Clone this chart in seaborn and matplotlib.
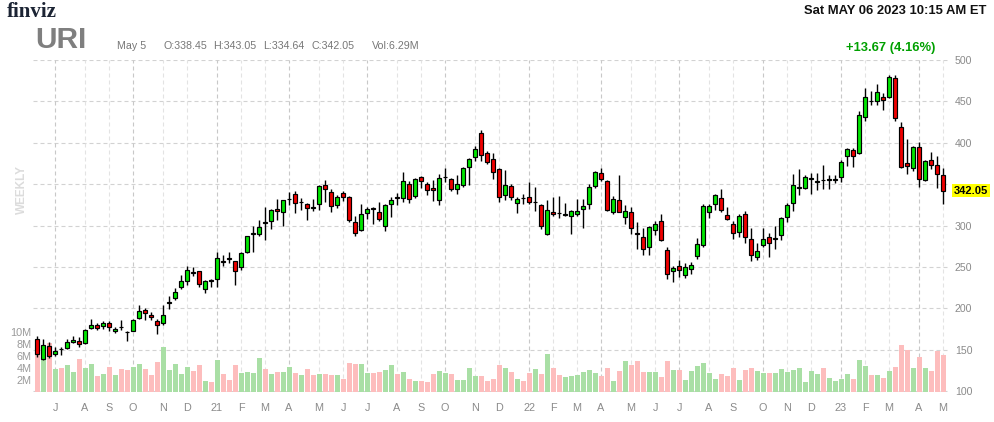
import numpy as np
import pandas as pd
import matplotlib
matplotlib.use("Agg")
import matplotlib.pyplot as plt
import matplotlib.transforms as mtransforms
import seaborn as sns

# ---------------- data (weekly candles, URI, Jun 2020 - May 2023) ----------------
opens = [162.9, 138.8, 154.4, 144.8, 151.2, 152.0, 159.2, 160.4, 158.0, 176.1,
         179.7, 178.5, 182.1, 172.5, 177.7, 171.7, 172.9, 187.8, 198.2, 191.8,
         184.9, 182.1, 206.6, 212.2, 225.5, 232.7, 243.6, 244.8, 223.1, 234.3,
         235.5, 256.8, 260.8, 256.8, 249.6, 268.5, 290.2, 289.4, 303.8, 305.0,
         319.9, 315.9, 331.5, 338.0, 327.9, 325.9, 321.9, 325.5, 348.8, 340.4,
         324.3, 339.2, 334.3, 304.2, 294.6, 315.1, 321.1, 316.3, 299.4, 325.5,
         333.9, 333.1, 350.0, 335.1, 358.4, 350.0, 345.2, 330.7, 358.4, 356.0,
         344.0, 348.8, 370.1, 382.5, 411.4, 387.3, 380.1, 368.5, 336.7, 347.6,
         327.1, 333.5, 334.3, 327.9, 324.7, 289.4, 316.3, 315.5, 312.7, 311.4,
         313.5, 319.9, 325.9, 347.6, 363.3, 353.6, 316.3, 330.7, 310.2, 316.3,
         291.0, 286.1, 274.1, 294.6, 305.4, 270.5, 245.2, 251.2, 240.4, 247.6,
         263.3, 276.5, 316.3, 325.9, 333.1, 312.7, 301.8, 292.2, 314.3, 284.1,
         262.4, 276.5, 286.1, 283.7, 288.2, 310.6, 327.5, 345.2, 345.6, 356.8,
         352.8, 355.2, 355.2, 354.8, 358.8, 384.1, 391.4, 387.8, 431.1, 450.8,
         450.4, 455.2, 455.2, 478.1, 419.1, 375.7, 369.7, 395.0, 355.2, 379.3,
         373.3, 361.2]
highs = [166.5, 162.4, 159.2, 152.8, 153.6, 163.3, 166.5, 164.9, 174.5, 187.3,
         182.5, 184.9, 184.1, 177.7, 185.3, 172.9, 187.3, 204.2, 200.6, 195.4,
         187.3, 203.4, 214.7, 224.3, 240.4, 251.6, 250.0, 245.6, 234.7, 235.5,
         268.5, 264.5, 268.5, 257.6, 267.7, 287.8, 299.0, 306.6, 321.9, 319.9,
         331.9, 331.1, 340.8, 342.0, 333.5, 327.1, 332.3, 349.2, 355.2, 343.6,
         336.7, 341.6, 335.1, 311.8, 325.9, 322.3, 322.3, 328.3, 325.9, 333.9,
         339.2, 364.9, 353.6, 357.6, 359.6, 352.0, 355.2, 362.4, 369.7, 357.6,
         360.8, 370.9, 381.7, 396.6, 415.5, 390.2, 387.8, 369.7, 366.5, 350.0,
         333.9, 338.0, 352.8, 346.8, 325.9, 331.1, 334.7, 335.9, 327.5, 318.7,
         332.3, 332.3, 350.0, 366.1, 369.3, 354.8, 335.5, 360.8, 324.7, 322.3,
         304.2, 297.0, 299.4, 305.0, 313.9, 274.5, 251.2, 258.4, 254.8, 256.0,
         285.3, 325.9, 325.9, 338.4, 344.0, 322.3, 305.4, 313.9, 317.1, 296.6,
         278.5, 297.4, 290.6, 299.0, 310.6, 326.7, 362.4, 367.7, 361.2, 363.7,
         363.7, 373.3, 361.2, 361.2, 379.7, 393.8, 393.8, 438.8, 466.1, 462.4,
         471.3, 460.0, 482.1, 482.1, 425.5, 404.6, 396.2, 401.0, 379.3, 389.0,
         384.5, 368.9]
lows = [140.8, 137.5, 140.0, 142.4, 143.2, 150.4, 157.6, 152.8, 156.8, 175.0,
        173.7, 174.5, 172.1, 170.1, 173.7, 160.0, 172.1, 186.9, 186.1, 185.7,
        168.5, 179.7, 199.4, 209.4, 222.7, 227.5, 239.2, 225.1, 217.9, 225.5,
        225.5, 251.6, 254.8, 228.7, 246.8, 266.9, 268.5, 287.8, 282.1, 295.4,
        307.0, 299.4, 324.3, 314.7, 318.3, 306.2, 317.1, 318.3, 328.7, 316.3,
        321.1, 329.1, 304.2, 287.0, 293.8, 308.2, 301.4, 305.4, 293.0, 309.8,
        324.3, 327.9, 326.7, 332.7, 345.2, 337.1, 329.1, 325.1, 352.4, 342.0,
        338.4, 346.0, 348.4, 378.5, 378.1, 374.1, 355.6, 327.9, 330.3, 330.3,
        315.5, 326.3, 326.3, 317.1, 296.2, 288.6, 311.4, 309.4, 311.8, 289.4,
        311.0, 296.6, 319.5, 345.2, 353.6, 317.1, 313.9, 315.9, 301.4, 289.8,
        271.3, 264.1, 264.1, 288.2, 281.7, 235.1, 231.5, 237.6, 236.3, 241.6,
        259.6, 274.1, 308.6, 319.1, 316.3, 306.2, 283.7, 285.7, 279.3, 257.2,
        258.8, 274.1, 262.0, 271.3, 282.5, 303.8, 317.5, 336.3, 344.4, 338.0,
        342.8, 344.4, 344.4, 351.6, 352.4, 372.1, 370.9, 386.5, 425.9, 445.6,
        445.6, 439.2, 454.0, 425.9, 369.7, 362.4, 365.7, 346.4, 354.0, 368.5,
        345.2, 325.5]
closes = [144.8, 155.6, 142.0, 148.4, 150.4, 159.2, 162.0, 156.8, 173.7, 179.7,
          176.1, 182.1, 177.3, 175.3, 176.9, 170.9, 185.7, 196.6, 193.8, 189.4,
          179.3, 191.8, 207.8, 219.9, 232.7, 246.0, 242.4, 229.1, 232.7, 233.1,
          260.4, 256.0, 260.0, 244.8, 266.5, 287.0, 291.0, 297.8, 303.0, 318.7,
          317.1, 330.7, 332.3, 327.1, 328.7, 320.7, 321.1, 347.6, 344.0, 323.5,
          334.3, 334.3, 306.6, 291.0, 313.9, 319.9, 320.3, 307.8, 324.7, 331.1,
          333.1, 353.6, 331.9, 356.4, 353.6, 342.8, 342.4, 357.2, 359.2, 344.0,
          350.0, 369.3, 380.1, 392.2, 384.9, 376.5, 364.5, 334.3, 348.4, 334.7,
          331.9, 332.7, 328.3, 328.7, 299.0, 318.7, 313.5, 314.7, 313.5, 317.5,
          317.5, 323.9, 346.4, 364.5, 356.0, 318.7, 331.9, 316.3, 317.5, 297.0,
          290.2, 271.7, 298.2, 301.8, 282.5, 241.6, 248.8, 246.4, 250.0, 252.4,
          277.7, 323.5, 323.5, 336.7, 318.7, 307.8, 291.0, 311.4, 286.1, 264.9,
          269.3, 284.1, 278.5, 284.5, 309.4, 324.3, 349.2, 346.0, 358.8, 357.6,
          353.6, 354.4, 356.0, 355.6, 376.9, 392.6, 384.1, 433.5, 455.2, 450.0,
          461.2, 451.6, 479.3, 429.9, 371.3, 372.1, 395.0, 356.4, 378.1, 373.3,
          362.4, 342.05]
volumes_m = [8.5, 7.0, 8.1, 3.8, 4.0, 4.5, 3.3, 5.5, 4.0, 4.7,
             2.7, 3.0, 4.2, 2.8, 3.8, 3.7, 4.2, 4.7, 3.9, 2.8,
             5.0, 7.5, 3.7, 4.7, 3.0, 4.2, 3.5, 4.5, 1.8, 1.7,
             5.3, 3.0, 2.0, 4.5, 3.2, 3.3, 3.2, 5.7, 3.8, 3.0,
             3.3, 3.3, 4.2, 3.2, 2.8, 3.8, 2.8, 3.0, 3.0, 2.8,
             2.8, 2.2, 4.8, 4.7, 4.7, 3.2, 3.2, 3.3, 3.7, 4.5,
             3.0, 3.3, 2.2, 1.8, 1.8, 1.7, 3.0, 3.5, 3.2, 3.0,
             2.0, 2.0, 4.0, 2.7, 2.7, 1.8, 2.2, 4.5, 4.0, 3.3,
             2.2, 1.8, 3.2, 3.8, 3.0, 6.3, 4.0, 2.8, 2.5, 2.7,
             2.8, 3.3, 3.7, 3.2, 2.7, 4.0, 1.8, 3.5, 5.2, 4.5,
             5.2, 3.3, 3.3, 3.3, 2.5, 5.2, 3.7, 3.7, 2.0, 3.5,
             4.3, 4.8, 3.2, 2.2, 3.0, 2.7, 4.0, 2.0, 3.7, 4.0,
             3.5, 3.2, 3.2, 3.2, 3.8, 3.3, 3.7, 4.0, 1.7, 3.5,
             3.0, 4.0, 2.3, 1.8, 2.2, 3.0, 2.2, 5.3, 4.3, 2.8,
             2.8, 2.3, 3.5, 4.2, 7.8, 7.0, 4.0, 5.8, 4.0, 3.5,
             6.8, 6.2]

month_tick_idx = [3, 8, 12, 16, 21, 25, 30, 34, 38, 42, 47, 51, 55, 60, 64, 68, 73, 77,
                  82, 86, 90, 94, 99, 103, 107, 112, 116, 121, 125, 129, 134, 138, 142, 147, 151]
month_labels = ["J", "A", "S", "O", "N", "D", "21", "F", "M", "A", "M", "J", "J", "A", "S", "O", "N", "D",
                "22", "F", "M", "A", "M", "J", "J", "A", "S", "O", "N", "D", "23", "F", "M", "A", "M"]
quarter_start = [True, False, False, True, False, False, True, False, False, True, False, False,
                 True, False, False, True, False, False, True, False, False, True, False, False,
                 True, False, False, True, False, False, True, False, False, True, False]

price_ticks = [100, 150, 200, 250, 300, 350, 400, 450, 500]
vol_ticks = [2, 4, 6, 8, 10]
vol_tick_labels = ["2M", "4M", "6M", "8M", "10M"]

ticker = "URI"
last_price = "342.05"

df = pd.DataFrame({"week": np.arange(len(opens)), "open": opens, "high": highs,
                   "low": lows, "close": closes, "volume": volumes_m})
df["dir"] = np.where(df["close"] >= df["open"], "up", "down")

# ---------------- figure ----------------
sns.set_theme(style="white")
plt.rcParams["font.family"] = ["Liberation Sans", "DejaVu Sans"]

W, H = 994, 422
fig = plt.figure(figsize=(W / 100, H / 100), dpi=100)
left_px, right_px, top_px, bot_px = 33, 948, 60, 392
ax_vol = fig.add_axes([left_px / W, 1 - bot_px / H, (right_px - left_px) / W, (bot_px - top_px) / H])
ax_price = ax_vol.twinx()

# volume bars (seaborn)
sns.barplot(data=df, x="week", y="volume", hue="dir",
            palette={"up": "#a9dfa5", "down": "#fdbdbd"}, dodge=False, legend=False,
            width=0.83, saturation=1, linewidth=0, ax=ax_vol, zorder=2)

xmin, xmax = -0.67, 151.83
ax_vol.set_xlim(xmin, xmax)
ax_vol.set_ylim(0, 55.3)
ax_price.set_ylim(98.8, 500)
ax_price.set_xlim(xmin, xmax)

# grid (under volume bars)
dash = (0, (3.6, 2.7))
blend = mtransforms.blended_transform_factory(ax_vol.transAxes, ax_price.transData)
for p in price_ticks:
    ax_vol.plot([0, 1], [p, p], transform=blend, color="#d2d2d2", lw=0.8, ls=dash, zorder=0.5)
for idx, q in zip(month_tick_idx, quarter_start):
    ax_vol.axvline(idx, color="#c8c8c8" if q else "#e3e3e3", lw=0.8, ls=dash, zorder=0.5)

# candles
up_col, dn_col = "#00e600", "#f00000"
ax_price.vlines(df["week"], df["low"], df["high"], color="black", lw=1.0, zorder=3)
body_bottom = np.minimum(df["open"], df["close"])
body_h = np.maximum(np.abs(df["close"] - df["open"]), 0.6)
ax_price.bar(df["week"], body_h, bottom=body_bottom, width=0.64,
             color=np.where(df["dir"] == "up", up_col, dn_col),
             edgecolor="black", linewidth=0.85, zorder=4)

# axes styling
for a in (ax_vol, ax_price):
    for s in a.spines.values():
        s.set_visible(False)
    a.grid(False)

# the 350 label sits under the last-price highlight in the reference
price_labels = ["" if p == 350 else str(p) for p in price_ticks]
ax_price.set_yticks(price_ticks)
ax_price.set_yticklabels(price_labels)
ax_price.yaxis.tick_right()
ax_price.tick_params(axis="y", length=0, pad=5, labelsize=7.6, labelcolor="#8a8a8a")
ax_price.set_ylabel("")

ax_vol.set_yticks(vol_ticks)
ax_vol.set_yticklabels(vol_tick_labels)
ax_vol.yaxis.tick_left()
ax_vol.tick_params(axis="y", length=0, pad=1, labelsize=7.8, labelcolor="#9a9a9a")
ax_vol.set_xticks(month_tick_idx)
ax_vol.set_xticklabels(month_labels)
ax_vol.tick_params(axis="x", length=0, pad=8, labelsize=7.8, labelcolor="#8a8a8a")
ax_vol.set_xlabel("")
ax_vol.set_ylabel("")

# header texts
def fx(x):
    return x / W

def fy(y):
    return 1 - y / H

fig.text(fx(7), fy(12), "finviz", family=["Liberation Serif", "DejaVu Serif"], weight="bold",
         fontsize=15, color="#1c2434", va="center", ha="left")
fig.text(fx(35), fy(40), ticker, weight="bold", fontsize=21.5, color="#7f7f7f", va="center", ha="left")
hdr = [(117, "May 5"), (164, "O:338.45"), (213, "H:343.05"), (263, "L:334.64"),
       (311, "C:342.05"), (372, "Vol:6.29M")]
for x, t in hdr:
    fig.text(fx(x), fy(46), t, fontsize=7.7, color="#777777", va="center", ha="left")
fig.text(fx(986), fy(11), "Sat MAY 06 2023 10:15 AM ET", weight="bold", fontsize=9.4,
         color="#111111", va="center", ha="right")
fig.text(fx(935), fy(48), "+13.67 (4.16%)", weight="bold", fontsize=9.4,
         color="#00a000", va="center", ha="right")
fig.text(fx(22), fy(190), "WEEKLY", weight="bold", fontsize=8.5, color="#dcdcdc",
         rotation=90, va="center", ha="center")
fig.text(fx(954), fy(190.5), last_price, weight="bold", fontsize=8, color="black",
         va="center", ha="left",
         bbox=dict(boxstyle="square,pad=0.15", fc="#ffff00", ec="none"))

fig.savefig("out.png", dpi=100)
